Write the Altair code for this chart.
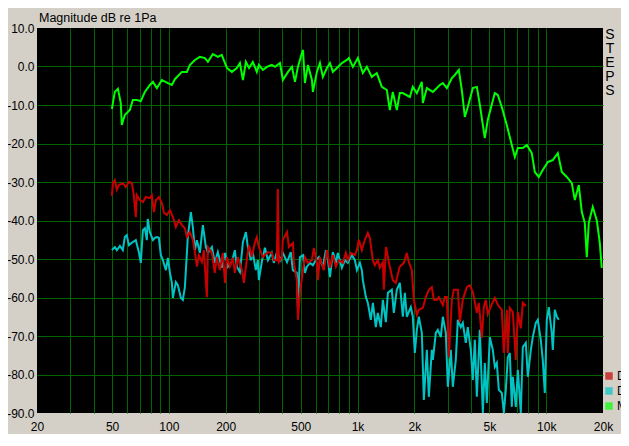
import altair as alt
import pandas as pd

# ---- data (frequency in Hz, level in dB) ----
green_f = [49.9, 51.7, 53.7, 55.6, 56.3, 58.4, 62.1, 64.4, 67.6, 71.0,
           74.6, 79.3, 82.3, 86.4, 91.8, 98.8, 103.7, 107.6, 117.2, 124.6,
           129.2, 137.4, 146, 155.2, 161, 171, 181.8, 190.6, 203.3, 215.8,
           229.2, 238, 246.9, 256, 266, 278.6, 292.6, 300, 315, 331,
           351, 365, 388, 402, 428, 449, 466, 483, 507, 514,
           526, 546, 573, 580, 609, 632, 655, 688, 714, 740,
           777, 826, 878, 900, 945, 1004, 1067, 1120, 1190, 1265,
           1345, 1430, 1483, 1538, 1615, 1675, 1738, 1893, 1963, 2062,
           2192, 2219, 2330, 2508, 2730, 2832, 2975, 3163, 3280, 3442,
           3570, 3705, 3840, 4084, 4290, 4450, 4727, 4900, 5340, 5540,
           5815, 6180, 6570, 6820, 7070, 7515, 7890, 8385, 8700, 9136,
           9590, 10200, 10840, 11520, 12100, 12860, 13665, 14180, 14884, 15440,
           16010, 16410, 16815, 17650, 18535, 19230, 19700]
green_db = [-11, -6.6, -5.8, -9.5, -15.2, -12.6, -11.3, -8.7, -8.7, -9,
            -6.6, -4.8, -4, -5.6, -3.5, -4.3, -4.8, -3.3, -1.4, -1.4,
            0.4, 1.7, 2.5, 2.2, 1.2, 3.2, 2.5, 3.0, -0.4, -1.4,
            -0.4, 0.9, -3.5, 1.2, -0.4, 1.2, -1.4, 0.4, -0.9, -0.1,
            0.4, -0.1, 0.9, -3.5, -1.4, -0.1, -4, -0.1, 3.5, 4.3,
            -4.3, 0.4, -3.5, -6.6, -1.4, 0.9, -2.7, -0.4, 0.9, -1.4,
            -0.4, 0.9, 1.7, 2.2, -0.1, 2.2, -1.7, -0.1, -2.7, -1.7,
            -5.3, -6.1, -11.3, -6.6, -11.3, -6.9, -6.9, -7.9, -5.3, -6.9,
            -4, -9.5, -5.6, -6.6, -4.8, -4.3, -5.6, -3, -2.2, -0.9,
            -6.1, -13.1, -10.5, -5.6, -5.3, -10, -18.6, -13.9, -6.9, -7.4,
            -10.5, -15.2, -20.4, -23.5, -21.2, -21.2, -20.4, -22.5, -27.4, -28.7,
            -26.9, -24.8, -24.3, -22.5, -27.4, -28.7, -30.3, -34.7, -30.8, -37.8,
            -40.6, -49.5, -40.6, -36.5, -39.9, -45.8, -52.3]

red_f = [49.9, 50.5, 51.7, 53.0, 54.3, 57.0, 59.1, 61.4, 63.7, 65.2,
         66.8, 67.6, 70.2, 72.8, 75.5, 79.3, 81.2, 83.3, 85.4, 88.5,
         91.8, 94.1, 97.6, 101.2, 105, 108.9, 113, 117.2, 121.6, 124.6,
         129.2, 134, 137.4, 140.8, 144.2, 149.6, 153.3, 159, 161, 169,
         175.1, 179.5, 186.3, 193.2, 198.4, 203.3, 210.6, 218.4, 223.7, 232.2,
         243.9, 250, 259.5, 266, 275.2, 285.5, 292.6, 300, 315, 334.8,
         351.4, 360, 373.6, 378, 383, 397.3, 402, 422.6, 433, 454.4,
         460, 477, 483, 495, 513.6, 526.4, 545, 572.6, 587, 608.9,
         616.4, 631.7, 663, 687.8, 713.7, 740, 767.5, 796, 835.5, 866.9,
         888.4, 922.2, 967.8, 991.7, 1016, 1053.9, 1093.3, 1134.1, 1162.1, 1205.5,
         1235, 1281.3, 1313, 1362, 1379, 1413, 1430.4, 1483, 1538, 1595.5,
         1655, 1675, 1760, 1825, 1870, 1940, 1988, 2062, 2113, 2219,
         2302, 2387, 2476, 2537, 2632, 2697, 2832, 2902, 2974, 3047,
         3161, 3239, 3401, 3484, 3614, 3795, 3936, 4084, 4185, 4289,
         4394, 4558, 4670, 4786, 4904, 5148, 5341, 5540, 5817, 5961,
         6183, 6259, 6414, 6653, 6902, 7071, 7335, 7516, 7796]
red_db = [-33.6, -30.3, -29.5, -32, -30.8, -30.3, -31.3, -30, -30.3, -33.4,
          -39.1, -33.4, -34.7, -35.2, -33.9, -34.2, -33.4, -37.8, -34.7, -33.9,
          -35.5, -38, -38.6, -37.3, -39.1, -41.7, -39.9, -41.2, -42, -44.3,
          -43, -45, -48.2, -52, -49, -50.8, -47.7, -59.9, -46.9, -48.4,
          -53.6, -49.5, -52.9, -48.4, -56.2, -49.5, -52, -49.7, -53.6, -49.5,
          -52.9, -56.2, -49.7, -46.4, -49.5, -45.8, -44.3, -46.9, -49.5, -48.2,
          -48.4, -50.3, -50.3, -31.8, -50.8, -49.5, -45, -43, -46.9, -45.8,
          -51, -55.5, -65.8, -58.8, -52.9, -49.5, -51, -50.3, -47.1, -51,
          -55.5, -49.5, -52.9, -47.7, -52.3, -49, -52, -50.3, -51, -48.4,
          -50.3, -48.4, -49, -47.7, -45, -47.7, -45, -43.2, -44.5, -50.3,
          -51.6, -50.3, -52.3, -50.8, -58, -46.9, -48.2, -52, -55.5, -56.2,
          -52.9, -52, -51, -48.4, -50.8, -52.9, -60.6, -64.5, -63.2, -62.7,
          -59.9, -58, -57.3, -60.6, -60.6, -59.9, -62, -59.9, -59.9, -75.5,
          -60.6, -58, -58, -66.4, -60.6, -57.3, -56.8, -58.6, -61.2, -64,
          -61.4, -70.5, -62.5, -60.6, -64.3, -61.7, -60.1, -61.9, -63.2, -74.4,
          -63.2, -74.4, -62.7, -63.8, -76.2, -63.8, -68, -61.4, -62.2]

cyan_f = [49.9, 51.7, 53.0, 55.0, 57.0, 58.4, 59.8, 61.4, 64.4, 66.8,
          69.3, 71.0, 72.8, 74.6, 76.4, 77.3, 79.3, 82.3, 84.3, 86.4,
          88.5, 90.7, 93.0, 96.4, 98.8, 101.2, 103.7, 105, 108.9, 111.6,
          115.8, 118.6, 121.6, 124.6, 126, 130.8, 134, 137.4, 140.8, 146,
          151.4, 157.1, 161, 169, 175.1, 181.8, 190.6, 198.4, 205.5, 215.8,
          223.7, 229.2, 238, 246.9, 256, 262.2, 272, 278.6, 289, 296,
          300, 312, 323, 335, 351, 360, 374, 392, 402, 423,
          443, 454, 477, 483, 495, 514, 526, 539, 559, 580,
          601, 624, 655, 680, 697, 714, 740, 768, 786, 826,
          857, 888, 933, 968, 992, 1029, 1054, 1067, 1107, 1134,
          1176, 1206, 1250, 1281, 1329, 1362, 1413, 1448, 1519, 1557,
          1615, 1675, 1738, 1781, 1825, 1916, 1963, 2012, 2062, 2113,
          2192, 2246, 2330, 2387, 2476, 2507, 2600, 2664, 2764, 2832,
          2938, 3010, 3122, 3199, 3318, 3401, 3527, 3614, 3750, 3840,
          3984, 4084, 4185, 4289, 4448, 4614, 4728, 4845, 5025, 5212,
          5341, 5473, 5608, 5817, 5961, 6109, 6259, 6414, 6573, 6653,
          6902, 7071, 7335, 7516, 7796, 7990, 8290, 8490, 8807, 9025,
          9358, 9590, 9830, 10070, 10322, 10700, 10840, 11110, 11380, 11661]
cyan_db = [-47.7, -46.9, -47.7, -46.6, -47.7, -44.3, -43.8, -46.4, -45.6, -45.1,
           -48.2, -51, -42.5, -42, -45.1, -39.6, -43, -45.1, -44.5, -44.3,
           -44.5, -49, -50.3, -52.9, -49.7, -53.4, -56.2, -60.1, -56, -56.8,
           -60.1, -60.6, -57.3, -48.4, -44.3, -37.8, -41.7, -47.7, -45.1, -48.4,
           -41.2, -46.9, -48.4, -46.9, -51, -48.2, -52.3, -48.4, -52, -50.8,
           -47.7, -52, -53.4, -45.6, -43, -46.9, -50.3, -48.4, -52.9, -50.3,
           -55.5, -50.3, -47.1, -50.3, -48.4, -51, -48.2, -50.3, -48.4, -50.8,
           -48.2, -52.9, -53.6, -62.5, -49.5, -49, -53.6, -52, -51, -51.6,
           -50.3, -49.5, -52, -47.7, -50.3, -54.7, -48.2, -51, -48.4, -52.3,
           -50.3, -51, -49, -50.3, -52.9, -51, -52.9, -55.5, -59.9, -61.4,
           -65.8, -61.4, -67.7, -64, -67.7, -60.6, -66.4, -58.8, -58, -64,
           -58, -56.2, -65, -58.8, -65, -62.5, -65, -74.4, -68.4, -65,
           -69.2, -86.6, -73.6, -85.8, -73.6, -76.2, -69.2, -68.4, -70.3, -65,
           -69.2, -83.2, -73.6, -83.2, -76.2, -65.8, -67.7, -66.6, -71.8, -67.7,
           -73.6, -81.4, -71, -85.8, -68.4, -90, -77, -87.4, -70.3, -73.6,
           -78, -77, -84, -84.8, -90, -84, -75.5, -74.4, -88.4, -80.6,
           -88.4, -78.8, -90, -72.9, -71.8, -80.6, -73.6, -70.3, -66.6, -65.8,
           -71, -76.2, -84.8, -65.8, -62.5, -69.2, -73.6, -63.2, -65, -65.8]

series_names = ["D2", "D3", "Mag"]
series_colors = ["#c80000", "#00c4c4", "#00ff00"]

x_grid = [20, 30, 40, 50, 60, 70, 80, 90,
          100, 200, 300, 400, 500, 600, 700, 800, 900,
          1000, 2000, 3000, 4000, 5000, 6000, 7000, 8000, 9000,
          10000, 20000]
x_labels = [20, 50, 100, 200, 500, 1000, 2000, 5000, 10000, 20000]
y_ticks = [-90, -80, -70, -60, -50, -40, -30, -20, -10, 0, 10]

title_text = "Magnitude dB re 1Pa"
side_text = ["S", "T", "E", "P", "S"]
status_text = "f:20170.0 Hz, Magn: -49.73 dB"
unit_text = "f(Hz)"

FONT = "Liberation Sans"

# ---- build table ----
df = pd.concat([
    pd.DataFrame({"f": red_f, "db": red_db, "series": "D2"}),
    pd.DataFrame({"f": cyan_f, "db": cyan_db, "series": "D3"}),
    pd.DataFrame({"f": green_f, "db": green_db, "series": "Mag"}),
], ignore_index=True)

arr = "[" + ",".join(str(v) for v in x_labels) + "]"
x_label_expr = (f"indexof({arr}, datum.value) >= 0 ? "
                "(datum.value >= 1000 ? format(datum.value/1000, 'd') + 'k' : format(datum.value, 'd')) : ''")
y_label_expr = "datum.value < 0 ? '-' + format(-datum.value, '.1f') : format(datum.value, '.1f')"

xs = alt.Scale(type="log", domain=[20, 20000], nice=False)
ys = alt.Scale(domain=[-90, 10], nice=False, zero=False)

x_axis = alt.Axis(values=x_grid, labelExpr=x_label_expr, title=None, ticks=False, tickSize=0,
                  domain=False, grid=True, gridColor="#006400",
                  gridOpacity={"condition": {"test": "datum.value == 20 || datum.value == 20000", "value": 0}, "value": 1},
                  labelFlush=False, labelOverlap=False, labelPadding=8,
                  labelFont=FONT, labelFontSize=12, labelColor="black")
y_axis = alt.Axis(values=y_ticks, labelExpr=y_label_expr, title=None, ticks=False, tickSize=0,
                  domain=False, grid=True, gridColor="#006400",
                  gridOpacity={"condition": {"test": "datum.value == 10 || datum.value == -90", "value": 0}, "value": 1},
                  labelFlush=False, labelOverlap=False, labelPadding=3,
                  labelFont=FONT, labelFontSize=12, labelColor="black")

# line colours (domain listed in another order so that this scale stays apart from the legend's)
line_scale = alt.Scale(domain=series_names[::-1], range=series_colors[::-1])
legend_scale = alt.Scale(domain=series_names, range=series_colors)


def line_layer(name):
    return alt.Chart(df).transform_filter(alt.datum.series == name).mark_line(
        strokeWidth=2, clip=True
    ).encode(
        x=alt.X("f:Q", scale=xs, axis=x_axis),
        y=alt.Y("db:Q", scale=ys, axis=y_axis),
        color=alt.Color("series:N", scale=line_scale, legend=None),
    )


legend_layer = alt.Chart(pd.DataFrame({"series": series_names})).mark_square(size=49).encode(
    x=alt.value(-60), y=alt.value(-60),
    fill=alt.Fill("series:N", scale=legend_scale,
                  legend=alt.Legend(title=None, orient="none", legendX=566, legendY=342,
                                    symbolType="square", symbolSize=56, symbolStrokeWidth=0,
                                    labelFont=FONT, labelFontSize=12, labelColor="black",
                                    rowPadding=3, labelOffset=2, padding=0)),
)

one = pd.DataFrame({"k": [0]})
title_layer = alt.Chart(one).mark_text(
    text=title_text, font=FONT, fontSize=12.5, color="black", align="left", baseline="alphabetic"
).encode(x=alt.value(2), y=alt.value(-6))

steps_layer = alt.Chart(one).mark_text(
    text=side_text, font=FONT, fontSize=14, color="black", align="center",
    baseline="top", lineHeight=14
).encode(x=alt.value(573), y=alt.value(0))

status_layer = alt.Chart(one).mark_text(
    text=status_text, font=FONT, fontSize=12, color="black", align="left", baseline="top"
).encode(x=alt.value(0), y=alt.value(408))

unit_layer = alt.Chart(one).mark_text(
    text=unit_text, font=FONT, fontSize=12, color="black", align="right", baseline="top"
).encode(x=alt.value(565), y=alt.value(408))

chart = alt.layer(
    line_layer("D3"), line_layer("D2"), line_layer("Mag"),
    legend_layer, title_layer, steps_layer, status_layer, unit_layer,
).properties(
    width=566, height=385,
    autosize=alt.AutoSizeParams(type="none"),
    padding={"left": 29, "top": 20, "right": 18, "bottom": 21},
).configure(
    background="#d4d0c8",
).configure_view(
    fill="black", stroke=None,
)

chart.save("out.html", embed_options={"renderer": "svg", "actions": False})
